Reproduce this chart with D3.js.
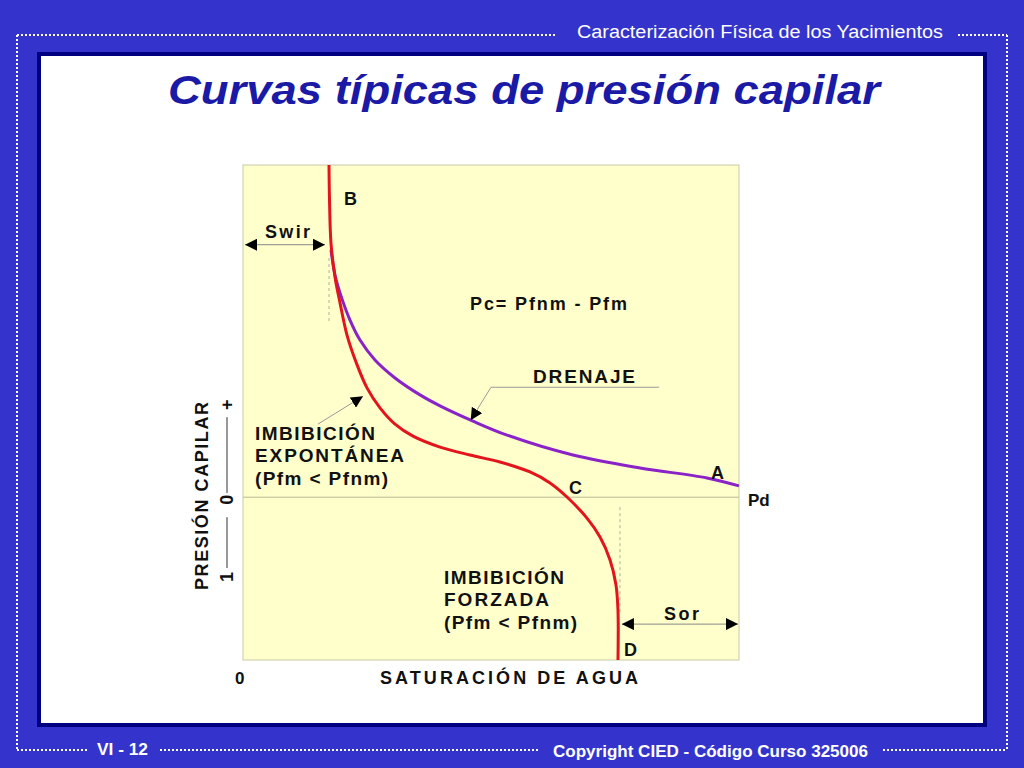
<!DOCTYPE html>
<html><head><meta charset="utf-8">
<script src="https://cdn.jsdelivr.net/npm/d3@7"></script>
<style>html,body{margin:0;padding:0;background:#3434cc;}svg{display:block;}</style>
</head><body>
<script>
// ---- data (saturation of water 0..1, capillary pressure in arbitrary units) ----
const drenaje = [[0.1774,74.4],[0.1855,66.9],[0.1956,61.5],[0.2157,53.3],[0.2359,47.3],[0.2661,41.3],[0.3065,35.9],[0.3569,30.8],[0.3972,27.5],[0.4637,22.9],[0.5323,18.7],[0.6653,12.7],[0.8004,8.8],[0.9355,5.8],[1.0,3.4]];
const imbibicion = [[0.1734,100],[0.1744,89.5],[0.1774,76.5],[0.1855,66.3],[0.1956,58.5],[0.2097,48.8],[0.2278,40.7],[0.25,32.9],[0.2762,26.9],[0.3065,22.0],[0.3427,18.4],[0.3972,15.1],[0.4577,12.7],[0.5181,10.6],[0.5786,7.6],[0.619,4.3],[0.6532,0.06],[0.6935,-6.3],[0.7198,-12.0],[0.74,-18.9],[0.752,-26.4],[0.756,-34.0],[0.756,-49]];
const swir = 0.1734, sor = 0.76;
const xDomain = [0, 1], yDomain = [-49, 100];
const yTickLabels = ["1", "0", "+"];
const yTickValues = [-24, -0.8, 27.8];

const W = 1024, H = 768;
const svg = d3.select("body").append("svg").attr("width", W).attr("height", H);
const sans = "'Liberation Sans', Arial, Helvetica, sans-serif";

// background frame
svg.append("rect").attr("width", W).attr("height", H).attr("fill", "#3434cc");
function dline(x1, y1, x2, y2) {
  svg.append("line").attr("x1", x1).attr("y1", y1).attr("x2", x2).attr("y2", y2)
    .attr("stroke", "#ffffff").attr("stroke-width", 2).attr("stroke-dasharray", "2,2");
}
dline(17, 35, 555, 35); dline(958, 35, 1007, 35);
dline(17, 35, 17, 750); dline(1007, 35, 1007, 750);
dline(17, 750, 88, 750); dline(160, 750, 540, 750); dline(883, 750, 1007, 750);

svg.append("text").attr("x", 577).attr("y", 38).attr("fill", "#fff")
  .attr("font-family", sans).attr("font-size", 18).attr("textLength", 366)
  .attr("lengthAdjust", "spacingAndGlyphs").text("Caracterización Física de los Yacimientos");
svg.append("text").attr("x", 97).attr("y", 755).attr("fill", "#fff")
  .attr("font-family", sans).attr("font-weight", "bold").attr("font-size", 16).attr("textLength", 51)
  .attr("lengthAdjust", "spacingAndGlyphs").text("VI - 12");
svg.append("text").attr("x", 553).attr("y", 757).attr("fill", "#fff")
  .attr("font-family", sans).attr("font-weight", "bold").attr("font-size", 16).attr("textLength", 315)
  .attr("lengthAdjust", "spacingAndGlyphs").text("Copyright CIED - Código Curso 325006");

// white panel
svg.append("rect").attr("x", 39).attr("y", 54).attr("width", 946).attr("height", 671)
  .attr("fill", "#ffffff").attr("stroke", "#000080").attr("stroke-width", 4);

svg.append("text").attr("x", 168).attr("y", 104).attr("fill", "#1a1aa6")
  .attr("font-family", sans).attr("font-weight", "bold").attr("font-style", "italic")
  .attr("font-size", 40).attr("textLength", 712).attr("lengthAdjust", "spacingAndGlyphs")
  .text("Curvas típicas de presión capilar");

// plot
const x = d3.scaleLinear().domain(xDomain).range([243, 739]);
const y = d3.scaleLinear().domain(yDomain).range([660, 165]);

svg.append("rect").attr("x", x(0)).attr("y", y(100)).attr("width", x(1) - x(0)).attr("height", y(-49) - y(100))
  .attr("fill", "#ffffcc").attr("stroke", "#c9c9a8").attr("stroke-width", 1);
svg.append("line").attr("x1", x(0)).attr("x2", x(1)).attr("y1", y(0)).attr("y2", y(0))
  .attr("stroke", "#b8b89a").attr("stroke-width", 1);

// arrowhead
const defs = svg.append("defs");
defs.append("marker").attr("id", "ah").attr("viewBox", "0 0 10 10").attr("refX", 10).attr("refY", 5)
  .attr("markerWidth", 12).attr("markerHeight", 12).attr("markerUnits", "userSpaceOnUse").attr("orient", "auto-start-reverse")
  .append("path").attr("d", "M0,0 L10,5 L0,10 Z").attr("fill", "#000");

// dashed guides
svg.append("line").attr("x1", x(swir)).attr("x2", x(swir)).attr("y1", y(72)).attr("y2", y(53))
  .attr("stroke", "#b0b0a0").attr("stroke-dasharray", "3,3");
svg.append("line").attr("x1", x(sor)).attr("x2", x(sor)).attr("y1", y(-3)).attr("y2", y(-35))
  .attr("stroke", "#b0b0a0").attr("stroke-dasharray", "3,3");

// curves
const line = d3.line().x(d => x(d[0])).y(d => y(d[1])).curve(d3.curveCatmullRom.alpha(0.5));
svg.append("path").datum(drenaje).attr("d", line).attr("fill", "none").attr("stroke", "#8a22c8").attr("stroke-width", 3);
svg.append("path").datum(imbibicion).attr("d", line).attr("fill", "none").attr("stroke", "#e3141c").attr("stroke-width", 3);

// Swir & Sor arrows
svg.append("line").attr("x1", x(0) + 2).attr("x2", x(swir) - 4).attr("y1", y(76)).attr("y2", y(76))
  .attr("stroke", "#888").attr("stroke-width", 1).attr("marker-start", "url(#ah)").attr("marker-end", "url(#ah)");
svg.append("line").attr("x1", x(sor) + 2).attr("x2", x(1) - 1).attr("y1", y(-38.2)).attr("y2", y(-38.2))
  .attr("stroke", "#888").attr("stroke-width", 1).attr("marker-start", "url(#ah)").attr("marker-end", "url(#ah)");

// leader lines
svg.append("path").attr("d", `M${x(0.839)},${y(33.1)} L${x(0.5)},${y(33.1)} L${x(0.459)},${y(23.2)}`)
  .attr("fill", "none").attr("stroke", "#999").attr("stroke-width", 1).attr("marker-end", "url(#ah)");
svg.append("line").attr("x1", x(0.151)).attr("y1", y(22)).attr("x2", x(0.242)).attr("y2", y(30.4))
  .attr("stroke", "#999").attr("stroke-width", 1).attr("marker-end", "url(#ah)");

// labels
function lab(t, px, py, len, size) {
  const e = svg.append("text").attr("x", px).attr("y", py).attr("fill", "#111")
    .attr("font-family", sans).attr("font-weight", "bold").attr("font-size", size || 19).text(t);
  if (len) e.attr("textLength", len).attr("lengthAdjust", "spacing");
  return e;
}
lab("B", 344, 205, null, 18);
lab("Swir", 265, 238, 45, 18);
lab("Pc= Pfnm - Pfm", 470, 310, 157, 18);
lab("DRENAJE", 533, 383, 102, 19);
lab("IMBIBICIÓN", 255, 440, 120);
lab("EXPONTÁNEA", 255, 462, 149);
lab("(Pfm < Pfnm)", 255, 485, 133);
lab("A", 711, 479, null, 18);
lab("C", 569, 494, null, 18);
lab("Pd", 748, 506, null, 17);
lab("IMBIBICIÓN", 444, 584, 120);
lab("FORZADA", 444, 606, 105);
lab("(Pfm < Pfnm)", 444, 629, 133);
lab("Sor", 664, 620, 35, 18);
lab("D", 624, 656, null, 18);
lab("0", 235, 684, null, 17);
lab("SATURACIÓN  DE  AGUA", 380, 684, 258, 18);

// y axis rotated labels
svg.append("text").attr("transform", "translate(208,496) rotate(-90)").attr("text-anchor", "middle").attr("fill", "#111")
  .attr("font-family", sans).attr("font-weight", "bold").attr("font-size", 18)
  .attr("textLength", 188).attr("lengthAdjust", "spacing").text("PRESIÓN  CAPILAR");
yTickLabels.forEach((t, i) => {
  svg.append("text").attr("transform", `translate(233,${y(yTickValues[i])}) rotate(-90)`)
    .attr("text-anchor", "middle").attr("fill", "#111").attr("font-family", sans)
    .attr("font-weight", "bold").attr("font-size", 18).text(t);
});
svg.append("line").attr("x1", 227).attr("x2", 227).attr("y1", y(-6.0)).attr("y2", y(-21.3)).attr("stroke", "#333").attr("stroke-width", 1);
svg.append("line").attr("x1", 227).attr("x2", 227).attr("y1", y(1.3)).attr("y2", y(24.1)).attr("stroke", "#333").attr("stroke-width", 1);
</script>
</body></html>
